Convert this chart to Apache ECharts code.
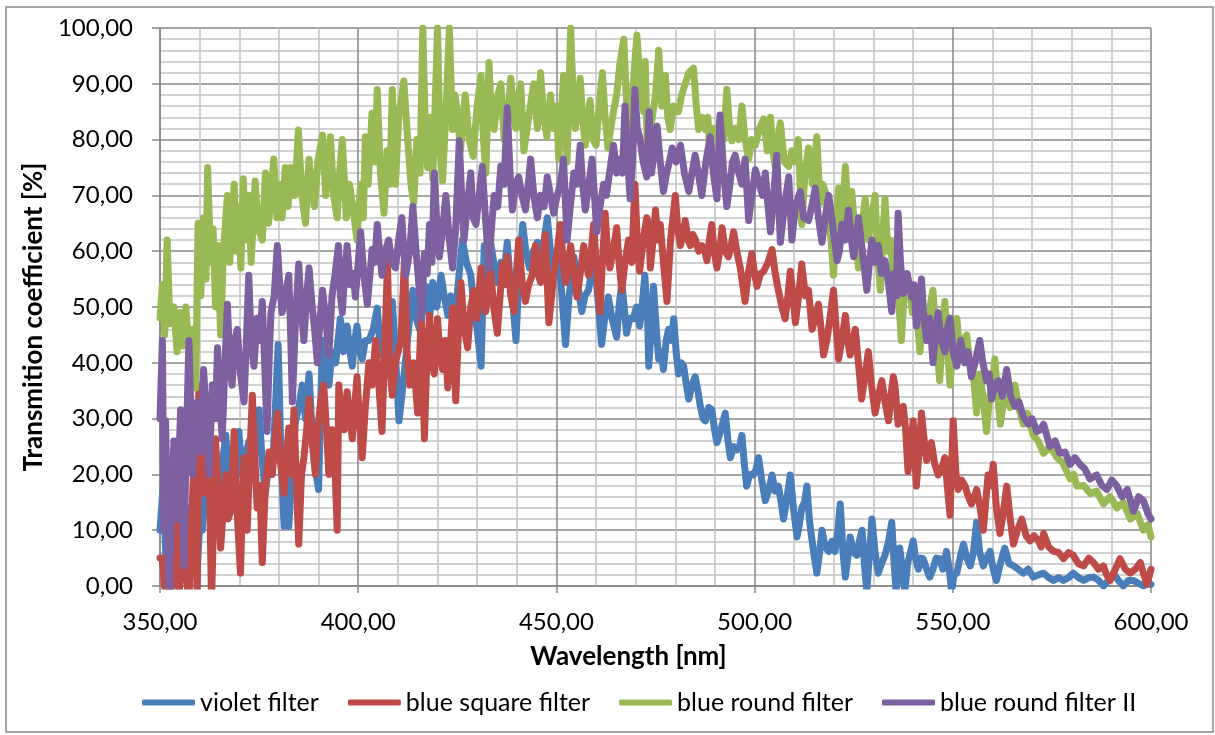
<!DOCTYPE html>
<html>
<head>
<meta charset="utf-8">
<title>Transmition coefficient</title>
<script src="https://cdn.jsdelivr.net/npm/echarts@6/dist/echarts.min.js"></script>
<style>
html, body { margin: 0; padding: 0; background: #fff; }
#chart { width: 1215px; height: 735px; }
</style>
</head>
<body>
<div id="chart"></div>
<script>
// [wavelength nm, transmition %]
const seriesNames = ['violet filter', 'blue square filter', 'blue round filter', 'blue round filter II']
const colors = ['#4a7ebb', '#be4b48', '#98b954', '#7d60a0']

const violetFilter = [
  [350,10],[350.8,18],[351.5,5],[352.3,15],[353,2],[353.8,12],[354.6,0],[355.4,8],[356.2,2],[357,14],
  [357.8,4],[358.6,10],[359.4,3],[360.1,12],[360.7,10],[361.5,18],[362.4,23],[363.2,14],[364,20],[364.9,16.6],
  [365.7,22],[366.6,27],[367.2,20],[367.8,16.6],[368.5,24],[369.2,22],[369.9,27.7],[370.7,20],[371.6,23.8],[372.5,26],
  [373.1,22],[373.7,29.6],[374.4,24],[375,31.6],[375.8,22],[376.6,16.6],[377.4,22],[378.3,20],[379,30],[379.8,43.3],
  [380.5,24],[381.3,10.7],[382,20],[382.5,10.7],[383.3,22],[384.2,29.6],[385,32],[385.9,36],[386.7,30],[387.6,38],
  [388.2,30],[388.8,23],[389.4,20],[390,17.3],[390.5,32],[391,44],[391.8,38],[392.6,36],[393.4,42],[394.3,40],
  [394.9,44],[395.5,47.9],[396.3,42],[397.2,46.6],[397.9,42],[398.5,39.4],[399.1,44],[399.7,46.6],[400.4,42],[401,40.7],
  [401.8,44],[402.7,44],[403.8,46],[404.8,49.8],[405.4,44],[406,41.4],[406.8,44],[407.7,47.2],[408.6,51],[409.5,40],
  [410.3,29.6],[411,34],[411.7,38.8],[412.7,46],[413.8,53],[414.6,48],[415.5,46],[416.3,50],[417.2,53.7],[418,48],
  [418.8,54.4],[419.8,50],[420.9,55.7],[421.7,52],[422.6,48.5],[423.4,52],[424.2,46],[425.2,54],[426.3,62],[427.3,58],
  [428.4,55.7],[429.2,50],[430,46],[431,39.4],[431.8,61],[432.6,56],[433.4,61.6],[434.2,58],[435.1,54.4],[436,58],
  [436.8,56],[437.6,61.6],[438.4,54],[439.1,50],[439.8,44],[440.6,56],[441.5,64.8],[442.3,60],[443.2,57],[444.2,60],
  [445.2,61.6],[446,58],[446.9,62],[447.7,66],[448.5,60],[449.3,56.4],[450.2,58],[451,55.7],[451.6,50],[452.3,43.3],
  [453.2,52],[454.4,59],[455.4,54],[456.4,49.2],[457.2,52],[458.1,53],[458.8,56],[459.4,59.6],[460.4,52],[461.4,43.3],
  [462.2,48],[463.1,51.8],[464,48],[465.2,44.6],[465.8,50],[466.5,54.4],[467.1,50],[467.7,45.3],[468.5,48],[469.4,47.9],
  [470.2,50],[471,46.6],[471.6,50],[472.3,55.7],[473,48],[473.3,39.4],[473.9,46],[474.5,53.7],[475.2,46],[475.8,40.7],
  [476.4,42],[477,38.8],[477.7,44],[478.3,46],[479,44],[479.6,47.9],[480.2,42],[480.8,38],[481.5,40],[482.1,39.4],
  [482.8,36],[483.4,33.5],[484.2,36],[485,37.5],[485.7,35],[486.3,32.2],[487,30],[487.6,29.6],[488.4,32],[489.2,31.6],
  [489.9,28],[490.5,25.7],[491.5,28],[492.6,31],[493.3,26],[493.9,23],[494.7,25],[495.5,24.4],[496.2,25],[496.8,27],
  [497.4,22],[498,17.9],[498.8,20],[499.7,19.9],[500.4,21],[501,23],[501.8,19],[502.7,15.3],[503.5,17],[504.4,19.9],
  [505.2,17],[506,17.9],[506.7,15],[507.3,12],[508.2,16],[509,19.9],[509.8,14],[510.7,8.8],[511.3,11],[511.9,14],
  [512.6,15],[513.2,17.9],[513.8,12],[514.5,8.1],[515.1,5],[515.7,2.3],[516.4,6],[517,10],[517.8,7],[518.7,6.2],
  [519.5,8],[520.3,6.2],[521,10],[521.6,14.7],[522.3,6],[522.9,1.6],[523.5,5],[524.1,8.8],[525,6],[525.8,5.5],
  [526.4,8],[527.1,10],[527.7,4],[528.3,-1],[529,6],[529.6,12],[530.4,6],[531.2,2.3],[532,4],[532.9,5.5],
  [533.8,8],[534.6,11.4],[535.2,4],[535.7,-1],[536.6,6.8],[537.3,3],[537.9,-1],[538.6,4],[539.3,6],[540,8.1],
  [540.6,5],[541.3,3],[541.9,5],[542.5,4.9],[543.4,3],[544.2,1.6],[545,3],[545.8,5],[546.7,4.9],[547.5,3],
  [548.4,6.2],[549.1,3],[549.7,-1],[550.3,2],[551,2.3],[551.8,5],[552.7,7.5],[553.5,5],[554.4,3.6],[555.2,6],
  [556,11.4],[556.8,6],[557.7,3.6],[558.5,5],[559.4,6.2],[560.2,3],[561,1],[562,4],[563.1,6.8],[564.2,4],
  [565.3,3.6],[566.5,3],[567.8,2.3],[569,3],[570.3,1.6],[571.6,2],[572.9,2.3],[574.2,1.5],[575.4,1],[576.7,1.5],
  [577.9,1],[579.2,1.5],[580.4,2.3],[581.7,1.5],[583,1],[584.3,1.5],[585.5,1.6],[586.8,1],[588,0],[589.3,1],
  [590.5,2.3],[591.8,1],[593,0],[594.3,1],[595.6,1],[596.8,0.5],[598.1,0],[599.2,0.5],[600,0.3]
]

const blueSquareFilter = [
  [350,5],[350.6,5],[351.4,-2],[352,3],[352.7,-3],[353.4,8],[354,16.6],[354.8,-2],[355.4,6],[356,8.8],
  [356.6,2],[357.3,-3],[358,12],[358.6,23],[359.4,-2],[359.8,36],[360.4,20],[361,16.6],[361.6,30],[362.3,26.4],
  [363,-3],[363.6,14],[364,26.4],[364.6,18],[365.3,6.8],[366,14],[366.6,20],[367.2,12],[367.8,13.4],[368.3,20],
  [368.7,27.7],[369.4,14],[370.3,2.3],[370.8,15],[371.2,23],[372,10],[372.6,22],[373.3,34.2],[374,22],[374.5,14],
  [375.2,18],[375.8,4.2],[376.6,18],[377.5,24],[378.3,20],[379,26],[379.6,31],[380.4,22],[381.3,16.6],[382,24],
  [382.5,28.3],[383.2,20],[383.8,31.6],[384.4,18],[385,7.5],[385.7,20],[386.3,23],[387,28],[387.6,33.5],[388.4,26],
  [389.2,20],[389.8,28],[390.5,32.9],[391.3,36],[392,28],[392.6,20],[393.4,28],[394.1,22],[394.7,10],[395.1,36],
  [395.8,30],[396.5,28],[397.2,34.8],[397.9,30],[398.5,26.4],[399.1,32],[399.7,37.5],[400.3,30],[401,23],[401.8,32],
  [402.7,40],[403.5,36],[404.4,44],[405.2,36],[406,27.7],[406.9,47.2],[407.4,58],[407.9,40],[408.6,34.2],[409.4,40],
  [410.3,42.7],[410.8,44],[411.7,59],[412.3,42],[413,36],[414,40],[415,31],[415.9,49],[416.7,26.4],[417.3,40],
  [418,48.5],[418.6,40],[419.2,38],[420,47.9],[420.6,42],[421.3,38.8],[422,44],[422.6,35.5],[423.2,42],[423.8,49.8],
  [424.6,33.2],[425.3,46],[425.9,54.4],[426.8,46],[427.6,42.7],[428.4,50],[429.2,53],[430,48],[431,57],[431.6,52],
  [432.2,49.2],[432.8,54],[433.4,56.4],[434.2,50],[435.1,45.3],[435.8,52],[436.4,57.7],[437,54],[437.6,59],[438.5,52],
  [439.3,49.2],[439.9,56],[440.5,62],[441.4,54],[442.2,51],[443,54],[443.9,55.7],[444.7,61],[445.4,56],[446,54.4],
  [446.6,58],[447.2,63],[448.1,47.2],[448.8,52],[449.3,55.7],[450.2,60],[451,64.8],[451.7,58],[452.3,54.4],[453,58],
  [453.6,61],[454.4,56],[455.2,51.8],[456,56],[456.9,61],[457.5,58],[458.1,55.7],[458.8,60],[459.4,64.8],[460.2,56],
  [461,49.2],[461.6,58],[462.3,66.8],[462.9,60],[463.5,57],[464.3,60],[465.2,64.2],[465.8,58],[466.5,53],[467.3,58],
  [468.2,62],[469,58],[469.8,72],[470.4,62],[471,56.4],[471.9,62],[472.8,66],[473.3,64.8],[473.7,57],[474.4,62],
  [475,67.4],[475.6,62],[476.2,64.8],[477,58],[477.9,51],[478.8,62],[480,70],[480.6,64],[481.3,61],[481.9,63],
  [482.5,65.5],[483.2,62],[483.8,61],[484.4,63],[485,62.2],[485.9,60],[486.7,61],[487.4,60],[488,58.3],[488.6,62],
  [489.2,64.8],[489.8,60],[490.5,57],[491.2,60],[491.8,64.2],[492.6,60],[493.4,59],[494.1,61],[494.7,63.5],[495.5,60],
  [496.4,57],[497,54],[497.6,51],[498.4,56],[499.3,59.6],[500,56],[500.6,53.7],[501.5,56],[502.3,56.4],[503.4,58],
  [504.4,60.3],[505.2,56],[506,53],[506.9,50],[507.7,47.9],[508.4,52],[509,56.4],[509.7,52],[510.3,47.2],[511.1,52],
  [511.9,57.7],[512.8,52],[513.6,53],[514.5,46],[515.3,48],[516.1,50.5],[516.8,46],[517.4,41.4],[518.2,44],[519,47.9],
  [519.9,53],[520.6,46],[521.2,40.7],[522,44],[522.9,48.5],[523.5,44],[524.1,41.4],[524.8,44],[525.4,46],[526.2,40],
  [527,33.5],[527.9,38],[528.7,42],[529.5,36],[530.4,31],[531.2,34],[532.1,36.8],[532.9,33],[533.8,29.6],[534.4,34.2],
  [535,37.5],[535.4,36],[536.2,29],[536.8,31],[537.5,32.2],[538.1,28],[538.7,20.5],[539.3,24],[540,29.6],[540.8,17.9],
  [541.5,24],[542.1,31],[542.8,26],[543.4,22.5],[544,24],[544.6,25.7],[545.4,22],[546.3,19.9],[547.2,21],[548,23],
  [548.6,18],[549.3,12.7],[550.1,29.6],[550.8,20],[551.4,17.3],[552.2,19],[553.1,17.9],[553.9,16],[554.7,14.7],[555.4,16],
  [556,17.3],[556.9,14],[557.7,10],[558.3,15],[558.9,19.9],[559.6,18],[560.2,21.8],[561,14],[561.9,9.4],[562.7,13],
  [563.6,17.9],[564.5,12],[565.3,7.5],[566.3,10],[567.4,12],[568.5,9],[569.5,8.1],[570.5,9],[571.6,8.1],[572.3,7],
  [572.9,9.4],[574.2,7],[575.4,6.2],[576.7,6],[577.9,4.9],[579.2,6],[580.4,5.5],[581.7,4],[583,3.6],[584.3,5],
  [585.5,4.2],[586.8,3],[588,3.6],[588.8,2],[589.7,1],[591,3],[592.2,4.9],[593.5,3],[594.8,2.3],[596,3],
  [597.3,4.2],[598.2,2],[599,0.3],[600,3]
]

const blueRoundFilter = [
  [350,48],[350.6,54],[351.2,45],[351.8,62],[352.5,47],[353.5,50],[354.3,42],[355,49],[355.8,43],[356.5,50],
  [357.5,41],[358.3,46],[359,35.5],[359.6,65],[360.3,52],[361,66],[361.6,55],[362,75],[362.8,58],[363.4,64],
  [364,50],[364.6,61],[365.3,45],[366,60],[367,70],[367.6,58],[368.2,65],[368.7,72],[369.3,60],[369.8,68],
  [370.4,57],[371,73],[371.8,62],[372.4,70],[373,58],[374,72.6],[374.8,64],[375.8,62],[376.6,74],[377.4,65],
  [378,70],[378.7,76.5],[379.5,66],[380.2,72],[380.8,66],[381.6,75],[382.3,68],[383,75],[384,70],[384.9,81.7],
  [385.8,70],[386.7,65],[387.6,76.5],[388.3,70],[389,68],[389.8,76],[391,80.8],[391.8,70],[392.5,75],[393,80.5],
  [393.8,70],[394.7,66],[395.4,75],[396,80],[397,66],[397.8,72],[398.6,68],[399.7,62],[400.6,72],[401.3,66],
  [401.8,80.5],[402.5,72],[403.5,84.7],[404.2,76],[404.8,89],[405.6,74],[406.5,66.8],[407.3,78],[408,72],[408.6,89],
  [409.4,72],[410.2,84],[411.5,90.5],[412.3,82],[413.3,72],[414,68.7],[414.8,80],[415.6,74],[416.3,100],[417,80],
  [417.5,75],[418.2,84],[418.8,73],[419.5,88],[420,100],[420.7,78],[421.3,72.6],[422.2,86],[423,100],[423.8,81.8],
  [424.4,88],[425,85],[425.8,78],[427,88],[428,80],[429,77],[430,86],[431,91.5],[431.6,80],[432.2,74],
  [433,93.8],[433.6,84],[434.3,81.8],[435.2,88],[436,90],[436.8,80],[437.6,83],[438.5,91],[439.2,84],[439.8,82],
  [440.4,88],[441,90],[441.8,78],[442.6,82],[443.4,86],[444.3,90],[445.2,82],[446,92],[446.8,84],[447.6,80.5],
  [448.5,88],[449.3,82],[450,86],[450.6,76.5],[451.2,84],[451.8,91.5],[452.7,76],[453.6,100],[454.2,88],[454.8,82],
  [455.4,86],[456,91],[456.6,84],[457.3,79],[458,84],[458.5,87],[459.2,80],[460,79],[460.8,86],[461.6,92],
  [462.3,84],[463,78.5],[463.7,82],[464.4,85],[465.2,88],[466,93.5],[467,98],[467.6,88],[468.2,82],[469,86],
  [469.6,92],[470.3,98.7],[471.2,90],[472,85],[472.4,94],[473,76.5],[474,83],[475,88],[475.8,96],[476.6,86],
  [477.5,91.5],[478.1,84],[478.7,81.8],[479.6,86],[480.8,85],[481.6,88],[482.5,90],[483.4,92],[484.6,92.8],[485.3,86],
  [485.9,81.8],[486.8,84],[487.6,81.8],[488.2,84],[488.8,76.5],[489.6,82],[490.5,80.5],[491.3,84],[492.2,80],[493,89],
  [493.7,82],[494.3,79.8],[495.2,82],[496,80],[496.8,86],[497.6,80],[498.5,76.5],[499.3,80],[500.2,79],[501.2,82],
  [502.3,83.7],[503.2,78],[504,84],[504.6,78],[505.2,75.2],[505.8,80],[506.5,83],[507.5,76],[508.6,75.2],[509.4,78],
  [510.2,76],[511,80],[511.9,64.8],[512.7,74],[513.6,78.5],[514.6,72],[515.7,80.5],[516.5,68.7],[517.2,72],[517.8,70.7],
  [518.6,66],[519.3,62],[519.9,55.7],[520.6,66],[521.2,71.3],[522,64],[522.9,75.2],[523.7,66],[524.5,70.7],[525.3,64],
  [526.2,57],[527,64],[527.9,69.4],[528.7,62],[529.5,66],[530.4,70],[531,60],[531.7,53],[532.3,62],[532.9,69.4],
  [533.6,60],[534.2,62],[535,56],[535.7,62],[536.3,52],[537,44],[537.7,52],[538.3,55.7],[539,54],[539.8,49],
  [540.6,52],[541.7,42],[542.5,49],[543.3,46],[544.2,50],[545,53],[545.8,44],[546.7,36.8],[547.4,46],[548,51],
  [548.7,42],[549.3,36],[550.2,44],[551,48],[551.8,42],[552.6,44],[553.5,45],[554.3,40],[555.2,38],[556,31],
  [556.8,38],[557.6,34],[558.5,27.7],[559.3,34],[560,36],[560.6,40.7],[561.3,34],[562,29],[562.8,33],[563.6,36],
  [564.5,32],[565.7,36],[566.6,32],[567.8,29],[568.8,31],[570.3,27],[571.5,26],[572.9,23.8],[574.5,25],[576.2,23.1],
  [577.8,22],[579.6,19.2],[580.5,20],[581.3,17.9],[583,18],[584.7,16.6],[586.3,17],[588,14.7],[589.7,16],[591.4,14],
  [593,15],[594.8,12],[596.5,13],[598.1,10],[599.2,11],[600,8.8]
]

const blueRoundFilterII = [
  [350,30],[350.6,44],[351,10],[351.4,29.6],[352.3,-3],[353,15],[353.5,26],[354.3,12],[355.2,31.6],[356,3.6],
  [356.6,25],[357.3,44],[358.2,20],[358.8,30],[359.4,33],[360.2,24],[361,38.8],[361.7,30],[362.4,20],[363.2,36],
  [364,30],[364.5,42.7],[365.2,32],[365.7,26.4],[366.4,40],[367,50.5],[367.6,40],[368.2,36],[368.8,44],[369.5,46],
  [370.3,38],[371.2,33],[371.8,44],[372.4,55.7],[373,44],[373.7,39.4],[374.5,48],[375.2,44],[375.8,51],[376.4,40],
  [377,27.7],[377.6,42],[378,49],[378.8,52],[379.6,61],[380.2,54],[380.8,49],[381.6,52],[382.5,55.7],[383,44],
  [383.4,33],[384.2,48],[385,57.7],[385.6,50],[386.3,44],[387,52],[387.6,57],[388.4,50],[389,46],[389.7,40],
  [390.4,48],[391,53],[391.8,48],[392.6,41.4],[393.4,52],[394.2,56],[395,61],[395.5,52],[396,49],[396.6,56],
  [397.2,61],[398,54],[398.7,56],[399.3,51.8],[400,58],[400.6,63.5],[401.4,56],[402.3,50.5],[403,56],[403.5,60.3],
  [404.2,58],[404.8,64.8],[405.4,60],[406,55.7],[406.8,60],[407.7,62],[408.5,58],[409.4,57],[410.2,62],[411,66],
  [411.5,60],[412,55.7],[413,60],[413.8,68],[414.6,60],[415.5,52.4],[416,48],[416.7,59.6],[417.4,56],[418,64.8],
  [418.6,58],[419.2,74],[419.9,64],[420.5,59],[421.3,64],[422.1,70],[423,62],[423.8,57],[424.6,64],[425.5,79.8],
  [426.1,70],[426.7,62],[427.5,68],[428.4,74],[429,66],[429.7,64.8],[430.5,70],[431.3,75.2],[432.1,66],[433,57],
  [433.6,64],[434.3,70],[435.2,68],[436,75.2],[436.8,72],[437.6,85.7],[438.3,74],[438.9,67.4],[439.7,72],[440.5,73.3],
  [441.3,70],[442.2,67.4],[442.9,72],[443.5,76.5],[444.3,70],[445.2,66],[446,70],[446.9,68],[447.7,73.3],[448.5,70],
  [449.3,66.8],[450.2,70],[451,72],[451.8,76.5],[452.7,62],[453.5,68],[454.4,74],[455.2,72],[456,79],[456.6,72],
  [457.3,67.4],[458.2,72],[459,76.5],[459.6,70],[460.2,63.5],[461,68],[461.9,72],[462.6,70],[463.4,74],[464.4,79],
  [465.2,74],[466,76.5],[466.7,74],[467.3,86],[468,76],[468.6,69.4],[469.2,76],[469.8,89],[470.4,82],[471,80.5],
  [471.9,76],[472.8,73.3],[473.4,85],[474,74],[474.7,78],[475.4,82.4],[476.2,76],[477,70.7],[477.8,74],[478.5,76],
  [479.2,78.5],[480.2,76],[481.3,79],[482.3,74],[483.4,70.7],[484.2,74],[485,77.2],[485.8,74],[486.7,70],[487.7,76],
  [488.8,80.5],[489.6,74],[490.5,69.4],[491.3,84.4],[492.2,74],[493,68],[493.8,72],[494.4,76],[495.1,77.2],[496,74],
  [496.8,72],[497.6,76.5],[498.5,65.5],[499.3,70],[500.2,74.6],[501.2,72],[502,70],[502.7,74],[503.4,68],[504,63.5],
  [504.8,70],[505.6,77.2],[506.5,61.6],[507.5,68],[508.6,73.3],[509.4,62],[510.3,68],[511.5,70.7],[512.4,66],[513.6,65.5],
  [514.4,68],[515.3,71.3],[516.1,66],[517,61.6],[517.8,66],[518.7,70],[519.8,64],[520.8,58.3],[521.4,60],[522,64.8],
  [522.8,62],[523.7,67.4],[524.4,62],[525,59],[525.6,62],[526.2,66],[527.2,60],[528.3,53],[529,58],[529.6,62],
  [530.4,58],[531.2,61],[532,56],[532.9,58.3],[533.8,54],[534.6,49.2],[535.1,56],[535.8,52],[536.2,66.8],[536.8,58],
  [537.5,52.4],[538.5,56],[539.6,51.8],[540.2,54],[540.8,46.6],[541.4,50],[542.1,55],[542.7,48],[543.4,44],[544.2,48],
  [545,40],[545.6,45],[546.3,49],[547.1,44],[548,42],[548.6,46],[549.3,48],[550.1,42],[551,39.4],[552,44],
  [553,40],[553.8,42],[554.7,37.5],[555.6,40],[556.8,44],[557.6,40],[558.5,36.8],[559.2,38],[559.8,33.5],[560.6,36],
  [561.5,36.8],[562.5,34],[563.6,38.8],[564.6,34],[565.7,32.2],[566.7,33],[567.8,30.3],[569,29],[570,30],[571.2,27.7],
  [572.1,28],[572.9,29],[573.7,27],[574.5,25],[575.8,26],[577,23.8],[578.3,24],[579.6,21.8],[580.8,23],[582.1,21.8],
  [583.3,21],[584.6,19.2],[586.3,19.9],[587.6,18],[588.9,17.3],[590.1,19],[591.4,17.9],[592.7,16],[594,17.3],[595.6,13.4],
  [596.9,16],[598.1,15.3],[599.2,13],[600,12]
]

const allData = [violetFilter, blueSquareFilter, blueRoundFilter, blueRoundFilterII]

const FONT = 'Lato, "Open Sans", sans-serif'
const fmt = (v) => v.toFixed(2).replace('.', ',')

const chart = echarts.init(document.getElementById('chart'), null, { renderer: 'canvas' })

const options = {
  animation: false,
  backgroundColor: '#fff',
  color: colors,
  textStyle: { fontFamily: FONT },
  graphic: [
    {
      type: 'rect',
      shape: { x: 6, y: 7, width: 1207, height: 725 },
      style: { fill: 'none', stroke: '#898989', lineWidth: 1.5 },
      silent: true,
    },
  ],
  grid: {
    left: 160,
    right: 64,
    top: 28,
    bottom: 149,
  },
  xAxis: {
    type: 'value',
    min: 350,
    max: 600,
    interval: 50,
    name: 'Wavelength [nm]',
    nameLocation: 'middle',
    nameGap: 58,
    nameTextStyle: { fontFamily: FONT, fontSize: 26, fontWeight: 'bold', color: '#000', padding: [0, 54, 0, 0] },
    axisLine: { show: true, onZero: false, lineStyle: { color: '#868686', width: 1.5 } },
    axisTick: { show: true, length: 7, lineStyle: { color: '#868686', width: 1.5 } },
    axisLabel: {
      formatter: fmt,
      margin: 24,
      fontFamily: FONT,
      fontSize: 24,
      color: '#000',
    },
    splitLine: { show: true, lineStyle: { color: '#888888', width: 1.5 } },
    minorTick: { show: false, splitNumber: 5 },
    minorSplitLine: { show: true, lineStyle: { color: '#c4c4c4', width: 1.5 } },
  },
  yAxis: {
    type: 'value',
    min: 0,
    max: 100,
    interval: 10,
    name: 'Transmition coefficient [%]',
    nameLocation: 'middle',
    nameGap: 110,
    nameTextStyle: { fontFamily: FONT, fontSize: 26, fontWeight: 'bold', color: '#000', padding: [0, 20, 0, 0] },
    axisLine: { show: true, lineStyle: { color: '#868686', width: 1.5 } },
    axisTick: { show: true, length: 8, lineStyle: { color: '#868686', width: 1.5 } },
    axisLabel: {
      formatter: fmt,
      margin: 27,
      fontFamily: FONT,
      fontSize: 24,
      color: '#000',
    },
    splitLine: { show: true, lineStyle: { color: '#888888', width: 1.5 } },
    minorTick: { show: false, splitNumber: 5 },
    minorSplitLine: { show: true, lineStyle: { color: '#c4c4c4', width: 1.5 } },
  },
  legend: {
    left: 142,
    top: 690,
    padding: 0,
    itemWidth: 53,
    itemHeight: 6,
    itemGap: 29,
    icon: 'roundRect',
    textStyle: { fontFamily: FONT, fontSize: 25, color: '#000', padding: [0, 0, 0, 0] },
    data: seriesNames,
  },
  series: seriesNames.map((name, i) => ({
    name: name,
    type: 'line',
    data: allData[i],
    showSymbol: false,
    symbol: 'none',
    clip: true,
    lineStyle: { width: 7, color: colors[i], cap: 'round', join: 'round' },
    itemStyle: { color: colors[i] },
  })),
}

chart.setOption(options)
window.addEventListener('resize', function () {
  chart && chart.resize()
})
</script>
</body>
</html>
